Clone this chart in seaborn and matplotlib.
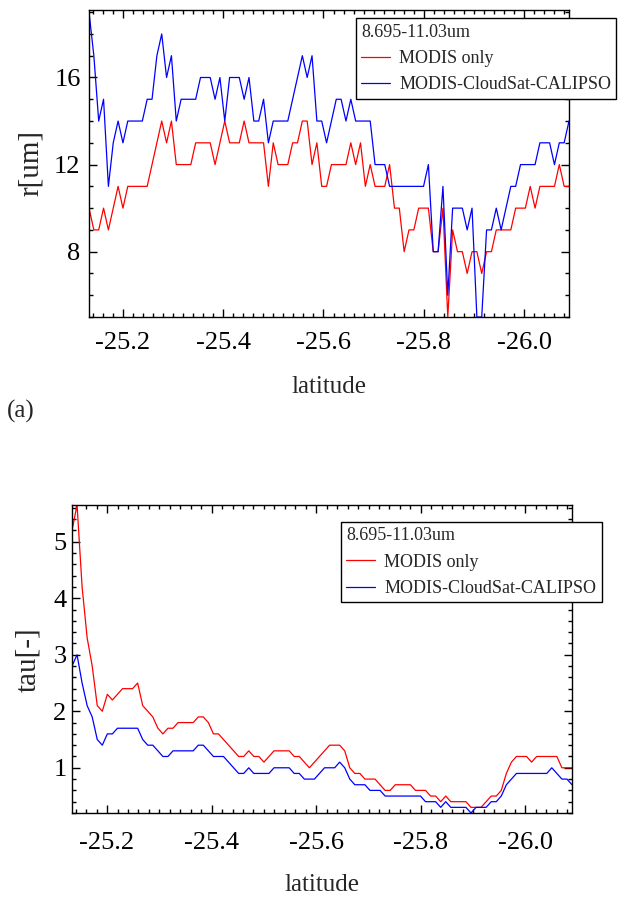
import numpy as np
import pandas as pd
import matplotlib
matplotlib.use('Agg')
import matplotlib.pyplot as plt
from matplotlib.ticker import MultipleLocator, FormatStrFormatter
import seaborn as sns

# latitude grid of the samples (100 points along track)
latitude = np.linspace(-25.133, -26.089, 100)

# effective radius r[um]
r_modis = [10, 9, 9, 10, 9, 10, 11, 10, 11, 11, 11, 11, 11, 12, 13, 14, 13, 14, 12, 12,
           12, 12, 13, 13, 13, 13, 12, 13, 14, 13, 13, 13, 14, 13, 13, 13, 13, 11, 13, 12,
           12, 12, 13, 13, 14, 14, 12, 13, 11, 11, 12, 12, 12, 12, 13, 12, 13, 11, 12, 11,
           11, 11, 12, 10, 10, 8, 9, 9, 10, 10, 10, 8, 8, 10, 5, 9, 8, 8, 7, 8,
           8, 7, 8, 8, 9, 9, 9, 9, 10, 10, 10, 11, 10, 11, 11, 11, 11, 12, 11, 11]
r_mcc = [19, 17, 14, 15, 11, 13, 14, 13, 14, 14, 14, 14, 15, 15, 17, 18, 16, 17, 14, 15,
         15, 15, 15, 16, 16, 16, 15, 16, 14, 16, 16, 16, 15, 16, 14, 14, 15, 13, 14, 14,
         14, 14, 15, 16, 17, 16, 17, 14, 14, 13, 14, 15, 15, 14, 15, 14, 14, 14, 14, 12,
         12, 12, 11, 11, 11, 11, 11, 11, 11, 11, 12, 8, 8, 11, 6, 10, 10, 10, 9, 10,
         5, 5, 9, 9, 10, 9, 10, 11, 11, 12, 12, 12, 12, 13, 13, 13, 12, 13, 13, 14]

# optical thickness tau[-]
tau_modis = [5.2, 5.65, 4.2, 3.3, 2.8, 2.1, 2.0, 2.3, 2.2, 2.3, 2.4, 2.4, 2.4, 2.5, 2.1, 2.0, 1.9, 1.7, 1.6, 1.7,
             1.7, 1.8, 1.8, 1.8, 1.8, 1.9, 1.9, 1.8, 1.6, 1.6, 1.5, 1.4, 1.3, 1.2, 1.2, 1.3, 1.2, 1.2, 1.1, 1.2,
             1.3, 1.3, 1.3, 1.3, 1.2, 1.2, 1.1, 1.0, 1.1, 1.2, 1.3, 1.4, 1.4, 1.4, 1.3, 1.0, 0.9, 0.9, 0.8, 0.8,
             0.8, 0.7, 0.6, 0.6, 0.7, 0.7, 0.7, 0.7, 0.6, 0.6, 0.6, 0.5, 0.5, 0.4, 0.5, 0.4, 0.4, 0.4, 0.4, 0.3,
             0.3, 0.3, 0.4, 0.5, 0.5, 0.6, 0.9, 1.1, 1.2, 1.2, 1.2, 1.1, 1.2, 1.2, 1.2, 1.2, 1.2, 1.0, 1.0, 1.0]
tau_mcc = [2.8, 3.0, 2.5, 2.1, 1.9, 1.5, 1.4, 1.6, 1.6, 1.7, 1.7, 1.7, 1.7, 1.7, 1.5, 1.4, 1.4, 1.3, 1.2, 1.2,
           1.3, 1.3, 1.3, 1.3, 1.3, 1.4, 1.4, 1.3, 1.2, 1.2, 1.2, 1.1, 1.0, 0.9, 0.9, 1.0, 0.9, 0.9, 0.9, 0.9,
           1.0, 1.0, 1.0, 1.0, 0.9, 0.9, 0.8, 0.8, 0.8, 0.9, 1.0, 1.0, 1.0, 1.1, 1.0, 0.8, 0.7, 0.7, 0.7, 0.6,
           0.6, 0.6, 0.5, 0.5, 0.5, 0.5, 0.5, 0.5, 0.5, 0.5, 0.4, 0.4, 0.4, 0.3, 0.4, 0.3, 0.3, 0.3, 0.3, 0.2,
           0.3, 0.3, 0.3, 0.4, 0.4, 0.5, 0.7, 0.8, 0.9, 0.9, 0.9, 0.9, 0.9, 0.9, 0.9, 1.0, 0.9, 0.8, 0.8, 0.7]

band = '8.695-11.03um'
labels = ['MODIS only', 'MODIS-CloudSat-CALIPSO']

sns.set_theme(style='ticks')
plt.rcParams['font.family'] = ['Liberation Serif', 'DejaVu Serif']
plt.rcParams['axes.unicode_minus'] = False

df_r = pd.DataFrame({'lat': latitude, labels[0]: r_modis, labels[1]: r_mcc})
df_tau = pd.DataFrame({'lat': latitude, labels[0]: tau_modis, labels[1]: tau_mcc})

fig = plt.figure(figsize=(6.19, 8.97), dpi=100)
ax1 = fig.add_axes([89 / 619, 1 - 317 / 897, 480 / 619, 307 / 897])
ax2 = fig.add_axes([72 / 619, 1 - 813 / 897, 500 / 619, 308 / 897])


def draw(ax, df, ylab, ylim, ymaj, ymin, xpad, ypad, leg_xy):
    sns.lineplot(data=df, x='lat', y=labels[0], ax=ax, color='red', linewidth=0.9, label=labels[0])
    sns.lineplot(data=df, x='lat', y=labels[1], ax=ax, color='blue', linewidth=0.9, label=labels[1])
    ax.set_xlim(-25.133, -26.089)
    ax.set_ylim(*ylim)
    ax.xaxis.set_major_locator(MultipleLocator(0.2))
    ax.xaxis.set_minor_locator(MultipleLocator(0.02))
    ax.xaxis.set_major_formatter(FormatStrFormatter('%.1f'))
    ax.yaxis.set_major_locator(MultipleLocator(ymaj))
    ax.yaxis.set_minor_locator(MultipleLocator(ymin))
    ax.tick_params(which='both', direction='in', top=True, right=True, width=1, colors='black',
                   labelsize=19)
    ax.tick_params(which='major', length=6)
    ax.tick_params(which='minor', length=3)
    ax.tick_params(axis='x', pad=xpad)
    ax.tick_params(axis='y', pad=ypad)
    for s in ax.spines.values():
        s.set_linewidth(1.0)
        s.set_color('black')
    ax.set_xlabel('latitude', fontsize=18)
    ax.set_ylabel(ylab, fontsize=21)
    h, l = ax.get_legend_handles_labels()
    leg = ax.legend(h, l, title=band, loc='upper left', bbox_to_anchor=leg_xy, frameon=True,
                    fancybox=False, edgecolor='black', framealpha=1, fontsize=13,
                    title_fontsize=13, alignment='left', handlelength=1.6, handletextpad=0.5,
                    borderpad=0.3, labelspacing=0.52, borderaxespad=0)
    leg.get_frame().set_linewidth(1.0)
    leg.set_clip_on(False)


draw(ax1, df_r, 'r[um]', (5, 19.1), 4, 1, 11, 6, ((355.7 - 89) / 480, 1 - (18.3 - 10) / 307))
draw(ax2, df_tau, 'tau[-]', (0.2, 5.65), 1, 0.2, 13.5, 4, ((341 - 72) / 500, 1 - (521.7 - 505) / 308))

ax1.xaxis.set_label_coords(0.5, -(387 - 317) / 307)
ax1.yaxis.set_label_coords((31 - 89) / 480, 1 - (163 - 10) / 307)
ax2.xaxis.set_label_coords(0.5, -(885 - 813) / 308)
ax2.yaxis.set_label_coords((28 - 72) / 500, 1 - (660 - 505) / 308)
for ax in (ax1, ax2):
    ax.xaxis.label.set_va('center')
    ax.yaxis.label.set_va('center')

fig.text(21 / 619, 1 - 411 / 897, '(a)', fontsize=18, ha='center', va='center')

fig.savefig('out.png', dpi=100, facecolor='white')
